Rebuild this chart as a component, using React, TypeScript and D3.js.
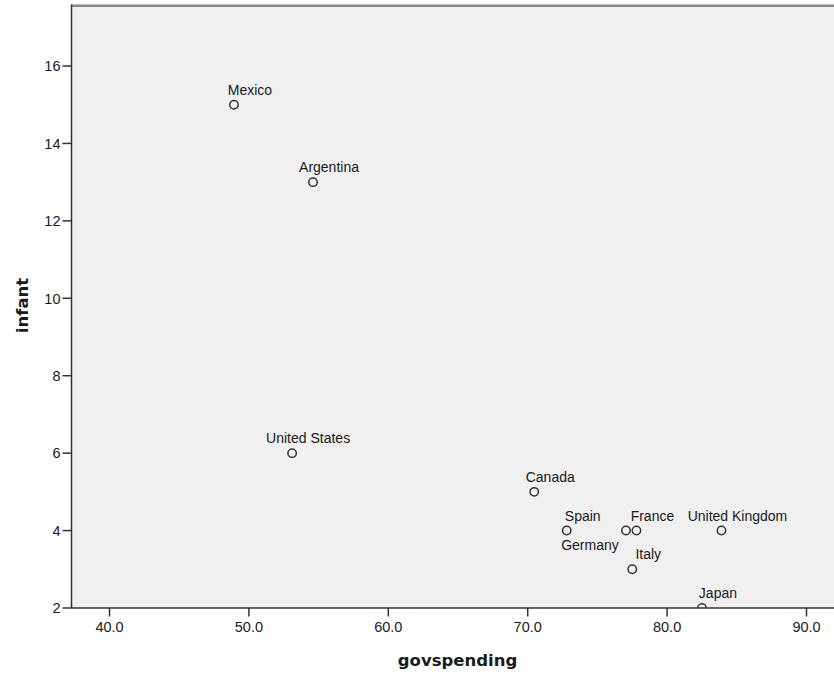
import React from "react";
import * as d3 from "d3";

const countries = ["Mexico", "Argentina", "United States", "Canada", "Spain", "Germany", "France", "United Kingdom", "Italy", "Japan"];
const govspending = [48.93, 54.6, 53.1, 70.47, 72.8, 77.05, 77.8, 83.9, 77.5, 82.5];
const infant = [15, 13, 6, 5, 4, 4, 4, 4, 3, 2];
const labelBelow = ["Germany"];
const xTicks = [40, 50, 60, 70, 80, 90];
const yTicks = [2, 4, 6, 8, 10, 12, 14, 16];

const W = 834;
const H = 674;
const left = 71.5;
const top = 6;
const bottom = 608;

export default function App() {
  const x = d3.scaleLinear().domain([40, 90]).range([109.5, 806.5]);
  const y = d3.scaleLinear().domain([2, 16]).range([bottom, 66]);
  const axisColor = "#333";
  const font = "'Liberation Sans', Arial, sans-serif";
  const titleFont = "'DejaVu Sans', Verdana, sans-serif";
  return (
    <svg width={W} height={H} style={{ position: "absolute", left: 0, top: 0, background: "#fff" }}>
      <defs>
        <clipPath id="plotClip">
          <rect x={left} y={top} width={W - left} height={bottom - top} />
        </clipPath>
      </defs>
      <rect x={left} y={top} width={W - left} height={bottom - top} fill="#f0f0f0" />
      <line x1={left} x2={W} y1={top - 0.2} y2={top - 0.2} stroke="#8a8a8a" strokeWidth={2.6} />
      {/* points */}
      <g clipPath="url(#plotClip)">
        {countries.map((c, i) => {
          const px = x(govspending[i]);
          const py = y(infant[i]);
          const below = labelBelow.includes(c);
          return (
            <g key={c}>
              <circle cx={px} cy={py} r={4.2} fill="none" stroke="#333" strokeWidth={1.5} />
              <text
                x={below ? px - 36 : px + 16}
                y={below ? py + 19 : py - 10}
                textAnchor="middle"
                fontFamily={font}
                fontSize={14}
                fill="#1a1a1a"
              >
                {c}
              </text>
            </g>
          );
        })}
      </g>
      {/* y axis */}
      <line x1={left} x2={left} y1={top - 1.5} y2={bottom} stroke={axisColor} strokeWidth={1.5} />
      {yTicks.map((t) => (
        <g key={"y" + t}>
          <line x1={left - 9} x2={left} y1={y(t)} y2={y(t)} stroke={axisColor} strokeWidth={1.5} />
          <text x={left - 11} y={y(t)} dy="0.36em" textAnchor="end" fontFamily={font} fontSize={14.5} fill="#1a1a1a">
            {t}
          </text>
        </g>
      ))}
      {/* x axis */}
      <line x1={left} x2={W} y1={bottom} y2={bottom} stroke={axisColor} strokeWidth={1.5} />
      {xTicks.map((t) => (
        <g key={"x" + t}>
          <line x1={x(t)} x2={x(t)} y1={bottom} y2={bottom + 8.5} stroke={axisColor} strokeWidth={1.5} />
          <text x={x(t)} y={632.3} textAnchor="middle" fontFamily={font} fontSize={14.5} fill="#1a1a1a">
            {t.toFixed(1)}
          </text>
        </g>
      ))}
      {/* axis titles */}
      <text x={457.5} y={666} textAnchor="middle" fontFamily={titleFont} fontWeight="bold" fontSize={16.5} fill="#1a1a1a">
        govspending
      </text>
      <text
        transform={`translate(28,305.5) rotate(-90)`}
        textAnchor="middle"
        fontFamily={titleFont}
        fontWeight="bold"
        fontSize={16.5}
        fill="#1a1a1a"
      >
        infant
      </text>
    </svg>
  );
}
